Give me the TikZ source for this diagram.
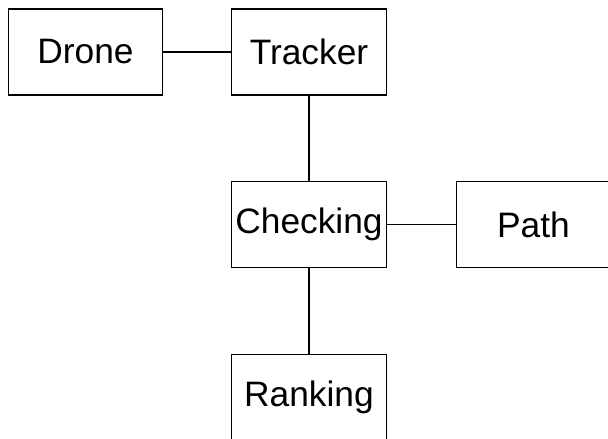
\documentclass[tikz,border=0pt]{standalone}
\usepackage{fontspec}
\setmainfont{Liberation Sans}
\begin{document}
\begin{tikzpicture}[x=0.75pt,y=-0.75pt,
  box/.style={draw=black,line width=1pt,minimum width=154.5*0.75pt,minimum height=86*0.75pt,inner sep=0pt,font=\fontsize{26.5}{30}\selectfont,fill=white},
  link/.style={draw=black,line width=1pt}]
\useasboundingbox (0,0) rectangle (608,439);
\clip (0,0) rectangle (608,439);
\node[box] (drone) at (85.5,52) {Drone};
\node[box] (tracker) at (309,52) {Tracker};
\node[box] (checking) at (309,224.5) {Checking};
\node[box] (path) at (533.5,224.5) {Path};
\node[box] (ranking) at (309,397.5) {Ranking};
\draw[link] (drone) -- (tracker);
\draw[link] (tracker) -- (checking);
\draw[link] (checking) -- (path);
\draw[link] (checking) -- (ranking);
\end{tikzpicture}
\end{document}
